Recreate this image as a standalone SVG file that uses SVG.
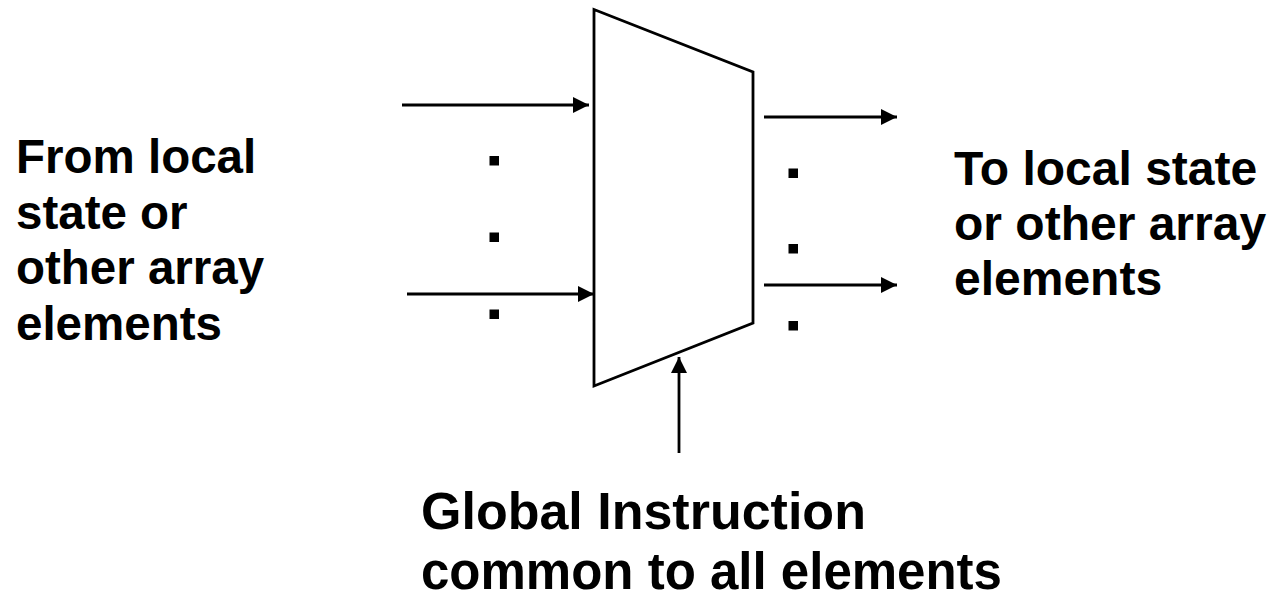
<svg xmlns="http://www.w3.org/2000/svg" width="1270" height="595" viewBox="0 0 1270 595">
<defs>
<style>
.ln{stroke:#000;stroke-width:2.8;fill:none}
.lbl{font-family:"Liberation Sans",Arial,sans-serif;font-weight:bold;fill:#000}
.dot{fill:#000}
</style>
<marker id="ah" markerWidth="16" markerHeight="16" viewBox="0 0 16 16" refX="16" refY="8" orient="auto" markerUnits="userSpaceOnUse">
<path d="M0,0 L16,8 L0,16 Z" fill="#000"/>
</marker>
</defs>
<rect width="1270" height="595" fill="#fff"/>
<g id="pe">
<polygon class="ln" points="594,9.5 753,72 753,323 594,386"/>
</g>
<g id="connectors">
<line class="ln" x1="402" y1="105" x2="589" y2="105" marker-end="url(#ah)"/>
<line class="ln" x1="407" y1="294" x2="594" y2="294" marker-end="url(#ah)"/>
<line class="ln" x1="764" y1="117" x2="897" y2="117" marker-end="url(#ah)"/>
<line class="ln" x1="764" y1="285" x2="897" y2="285" marker-end="url(#ah)"/>
<line class="ln" x1="679" y1="453" x2="679" y2="357" marker-end="url(#ah)"/>
</g>
<g id="dots">
<rect class="dot" x="489.5" y="156" width="9.5" height="9.5"/>
<rect class="dot" x="489.5" y="232.5" width="9.5" height="9.5"/>
<rect class="dot" x="489.5" y="309.5" width="9.5" height="9.5"/>
<rect class="dot" x="788.5" y="168.5" width="9.5" height="9.5"/>
<rect class="dot" x="788.5" y="244" width="9.5" height="9.5"/>
<rect class="dot" x="788.5" y="321" width="9.5" height="9.5"/>
</g>
<g id="input-label">
<text class="lbl" font-size="47.5" x="16" y="173">From local</text>
<text class="lbl" font-size="47.5" x="16" y="229">state or</text>
<text class="lbl" font-size="47.5" x="16" y="284">other array</text>
<text class="lbl" font-size="47.5" x="16" y="340">elements</text>
</g>
<g id="output-label">
<text class="lbl" font-size="48" x="954" y="185">To local state</text>
<text class="lbl" font-size="48" x="954" y="240">or other array</text>
<text class="lbl" font-size="48" x="954" y="295">elements</text>
</g>
<g id="instruction-label">
<text class="lbl" font-size="52" x="421" y="529">Global Instruction</text>
<text class="lbl" font-size="51" x="421" y="589">common to all elements</text>
</g>
</svg>
